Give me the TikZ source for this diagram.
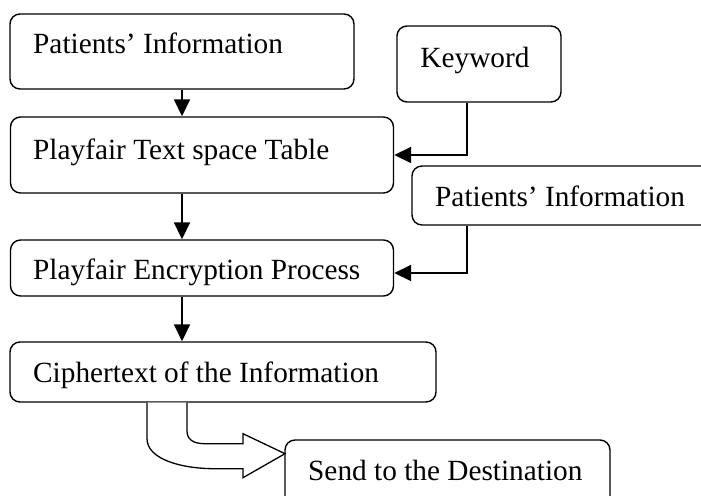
\documentclass[tikz,border=0pt]{standalone}
\usepackage{fontspec}
\setmainfont{Liberation Serif}
\usetikzlibrary{arrows.meta,calc,positioning}

\begin{document}
\begin{tikzpicture}[x=1pt,y=-1pt,
    box/.style={draw,line width=1.4pt,rounded corners=10pt,inner sep=0pt},
    lbl/.style={inner sep=0pt,font=\fontsize{29.3}{34}\selectfont},
    arr/.style={line width=1.8pt,-{Triangle[length=17pt,width=16pt]}},
    hollow/.style={draw,line width=1.3pt,fill=white,line join=miter}]

    \useasboundingbox (0,0) rectangle (701,495);

    % kasten
    \node[box,minimum width=344,minimum height=75] (info) at (182,51.5) {};
    \node[box,minimum width=383,minimum height=76] (table) at (202,155) {};
    \node[box,minimum width=164,minimum height=76] (keyw) at (479,64) {};
    \node[box,minimum width=300,minimum height=59] (info2) at (562,195.5) {};
    \node[box,minimum width=383,minimum height=56] (enc) at (202,268) {};
    \node[box,minimum width=426,minimum height=60] (cipher) at (223,372) {};
    \node[box,minimum width=325,minimum height=66] (send) at (447.5,473) {};

    % texte
    \node[lbl,anchor=base west] (infot) at (33,54) {Patients’ Information};
    \node[lbl,anchor=base west] (tablet) at (33,159) {Playfair Text space Table};
    \node[lbl,anchor=base] (keywt) at (475,67) {Keyword};
    \node[lbl,anchor=base west] (info2t) at (435,206) {Patients’ Information};
    \node[lbl,anchor=base west] (enct) at (33,279) {Playfair Encryption Process};
    \node[lbl,anchor=base west] (ciphert) at (33,382) {Ciphertext of the Information};
    \node[lbl,anchor=base west] (sendt) at (308,480) {Send to the Destination};

    % pfeile
    \draw[arr] (info.south) -- (info.south |- table.north);
    \draw[arr] ([xshift=-20pt]table.south) -- ([xshift=-20pt]table.south |- enc.north);
    \draw[arr] ([xshift=-20pt]enc.south) -- ([xshift=-20pt]enc.south |- cipher.north);
    \draw[arr] ([xshift=-12pt]keyw.south) |- (table.east);
    \draw[arr] ([xshift=-95pt]info2.south) |- ([yshift=-5pt]enc.east);

    % gebogener blockpfeil
    \draw[hollow] ([xshift=-76pt]cipher.south) -- ++(0,36)
        .. controls +(0,20) and +(-35,0) .. ++(68,30) -- ++(28,0) -- ++(0,9)
        -- ++(42,-24) -- ++(-42,-20) -- ++(0,10) -- ++(-38,0)
        .. controls +(-13,0) and +(0,8) .. ++(-18,-13) -- ++(0,-28);

\end{tikzpicture}
\end{document}
